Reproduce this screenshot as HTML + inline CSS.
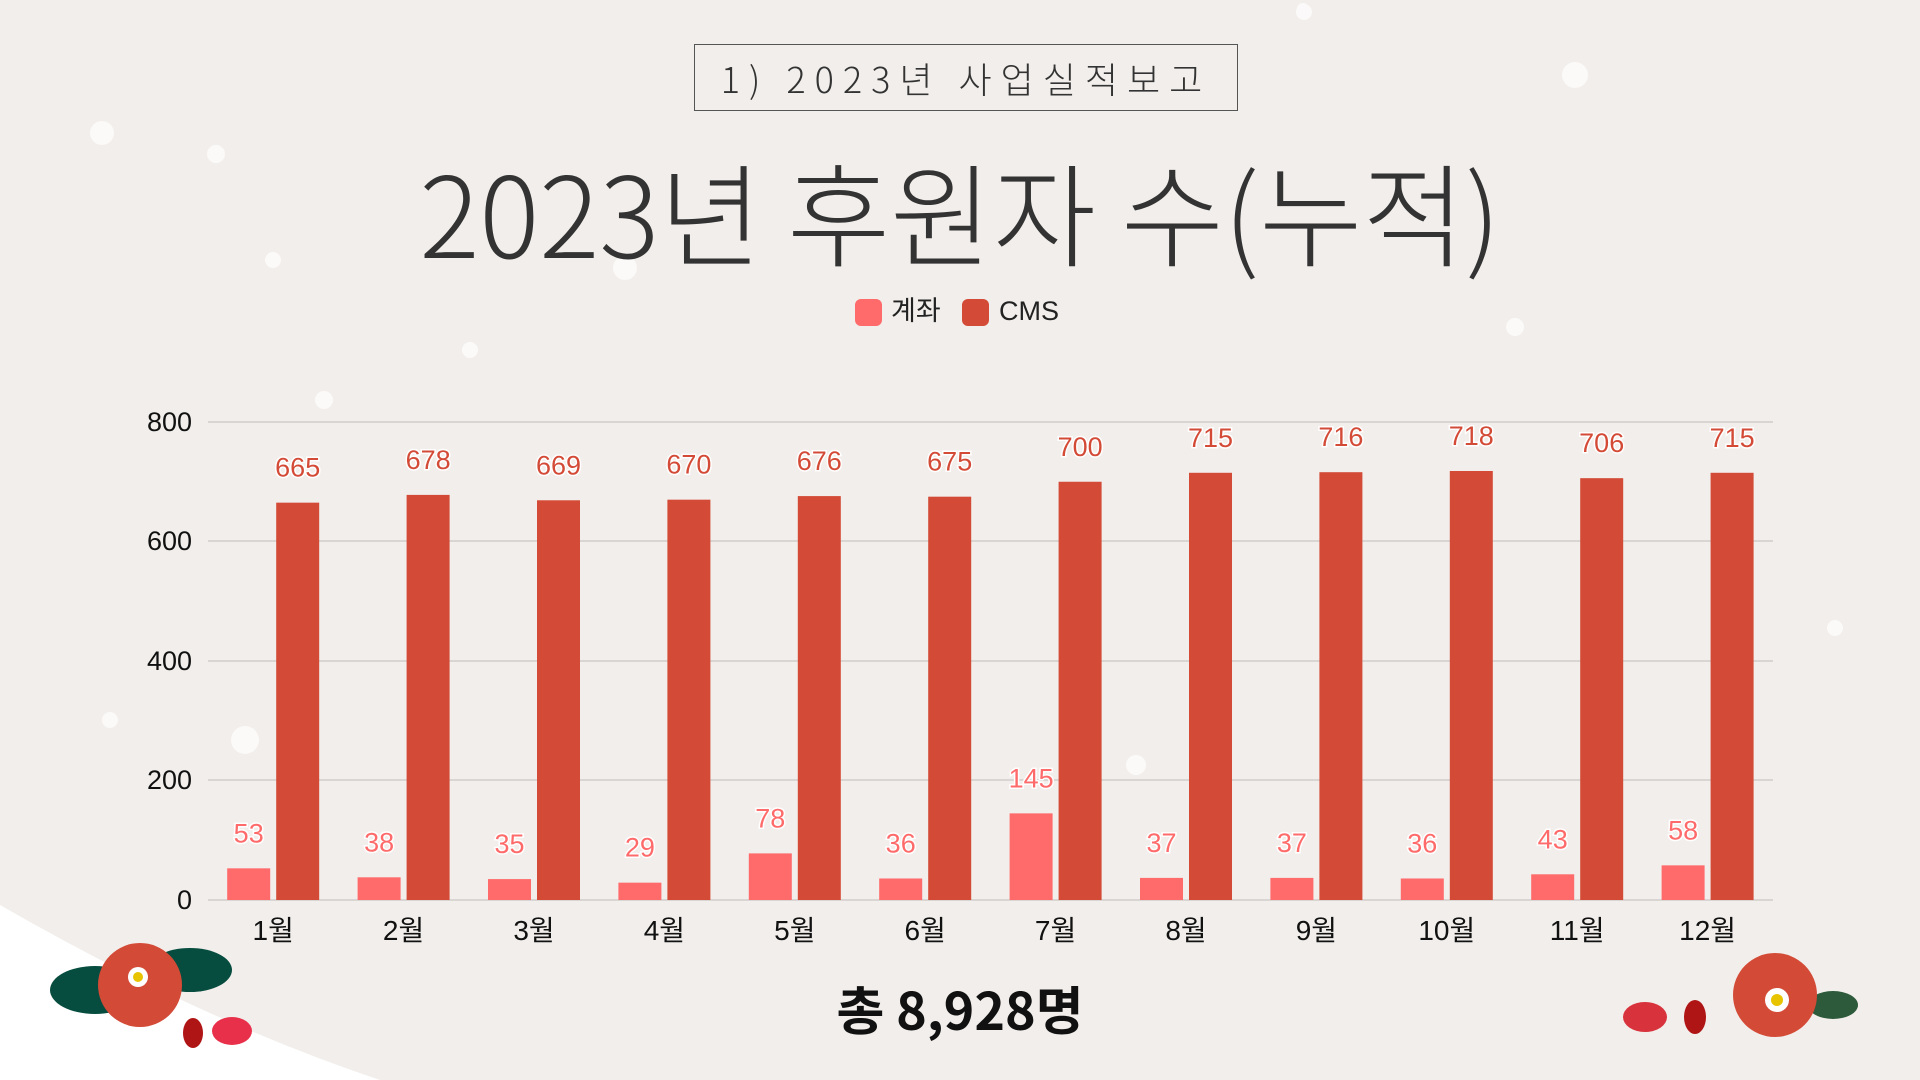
<!DOCTYPE html>
<html><head><meta charset="utf-8"><style>
body{margin:0;width:1920px;height:1080px;overflow:hidden;background:#f2eeeb;font-family:"Liberation Sans","Noto Sans CJK KR",sans-serif;position:relative}
.box{position:absolute;left:694px;top:44px;width:544px;height:67px;border:1.5px solid #555;box-sizing:border-box;text-align:center;line-height:67px;font-size:36px;letter-spacing:9px;color:#333;font-family:"Noto Sans CJK KR",sans-serif;font-weight:300}
.title{position:absolute;left:0;width:1920px;top:145px;text-align:center;font-size:112px;color:#333;font-family:"Noto Sans CJK KR",sans-serif;font-weight:300;line-height:130px}
.total{position:absolute;left:0;width:1920px;top:970px;text-align:center;font-size:52px;font-weight:bold;color:#111;font-family:"Noto Sans CJK KR",sans-serif}
</style></head><body>
<svg width="1920" height="1080" style="position:absolute;left:0;top:0">
<path d="M0 905 Q200 1020 380 1080 L0 1080Z" fill="#fff"/>
<g fill="#fff" opacity="0.7">
<circle cx="102" cy="133" r="12"/><circle cx="216" cy="154" r="9"/><circle cx="273" cy="260" r="8"/><circle cx="625" cy="268" r="12"/><circle cx="324" cy="400" r="9"/><circle cx="1575" cy="75" r="13"/><circle cx="1515" cy="327" r="9"/><circle cx="1835" cy="628" r="8"/><circle cx="1136" cy="765" r="10"/><circle cx="1304" cy="12" r="8"/><circle cx="1303" cy="9" r="6"/><circle cx="245" cy="740" r="14"/><circle cx="470" cy="350" r="8"/><circle cx="110" cy="720" r="8"/>
</g>
<g stroke="#c9c6c3" stroke-width="1.3">
<line x1="208" y1="422" x2="1773" y2="422"/><line x1="208" y1="541" x2="1773" y2="541"/><line x1="208" y1="661" x2="1773" y2="661"/><line x1="208" y1="780" x2="1773" y2="780"/><line x1="208" y1="900" x2="1773" y2="900"/>
</g>
<g font-size="27" fill="#111" text-anchor="end" font-family="Liberation Sans,sans-serif">
<text x="192" y="431">800</text><text x="192" y="550">600</text><text x="192" y="670">400</text><text x="192" y="789">200</text><text x="192" y="909">0</text>
</g>
<g id="bars"></g>
<rect x="855" y="299" width="27" height="27" rx="6" fill="#ff6b6b"/>
<text x="891" y="320" font-size="27" fill="#222" font-family="Noto Sans CJK KR,sans-serif">계좌</text>
<rect x="962" y="299" width="27" height="27" rx="6" fill="#d34b37"/>
<text x="999" y="320" font-size="27" fill="#222" font-family="Liberation Sans,sans-serif">CMS</text>
<g transform="translate(140,985)">
<ellipse cx="-45" cy="5" rx="45" ry="24" fill="#064d3f"/><ellipse cx="50" cy="-15" rx="42" ry="22" fill="#064d3f"/>
<circle cx="0" cy="0" r="42" fill="#d34b37"/><circle cx="-2" cy="-8" r="10" fill="#fff"/><circle cx="-2" cy="-8" r="5" fill="#e7c300"/>
<ellipse cx="53" cy="48" rx="10" ry="15" fill="#b01515"/><ellipse cx="92" cy="46" rx="20" ry="14" fill="#e8304a"/>
</g>
<g transform="translate(1775,995)">
<ellipse cx="58" cy="10" rx="25" ry="14" fill="#2d5a3a"/>
<circle cx="0" cy="0" r="42" fill="#d34b37"/><circle cx="2" cy="5" r="12" fill="#fff"/><circle cx="2" cy="5" r="6" fill="#e7c300"/>
<ellipse cx="-130" cy="22" rx="22" ry="15" fill="#d8323c"/><ellipse cx="-80" cy="22" rx="11" ry="17" fill="#b01515"/>
</g>
</svg>
<div class="box">1) 2023년 사업실적보고</div>
<div class="title">2023년 후원자 수(누적)</div>
<div class="total">총 8,928명</div>
<script>
var a=[53,38,35,29,78,36,145,37,37,36,43,58],b=[665,678,669,670,676,675,700,715,716,718,706,715];
var s='';for(var i=0;i<12;i++){var c=208+130.4*i+65.2;
var h1=a[i]*0.5975,h2=b[i]*0.5975;
s+='<rect x="'+(c-46)+'" y="'+(900-h1)+'" width="43" height="'+h1+'" fill="#ff6b6b"/>';
s+='<rect x="'+(c+3)+'" y="'+(900-h2)+'" width="43" height="'+h2+'" fill="#d34b37"/>';
s+='<text x="'+(c-24.5)+'" y="'+(900-h1-26)+'" font-size="27" fill="#ff6b6b" stroke="#fff" stroke-width="3" paint-order="stroke" text-anchor="middle" font-family="Liberation Sans,sans-serif">'+a[i]+'</text>';
s+='<text x="'+(c+24.5)+'" y="'+(900-h2-26)+'" font-size="27" fill="#d34b37" stroke="#fff" stroke-width="3" paint-order="stroke" text-anchor="middle" font-family="Liberation Sans,sans-serif">'+b[i]+'</text>';
s+='<text x="'+c+'" y="940" font-size="28" fill="#111" text-anchor="middle" font-family="Liberation Sans,Noto Sans CJK KR,sans-serif">'+(i+1)+'월</text>';}
document.getElementById('bars').innerHTML=s;
</script>
</body></html>
